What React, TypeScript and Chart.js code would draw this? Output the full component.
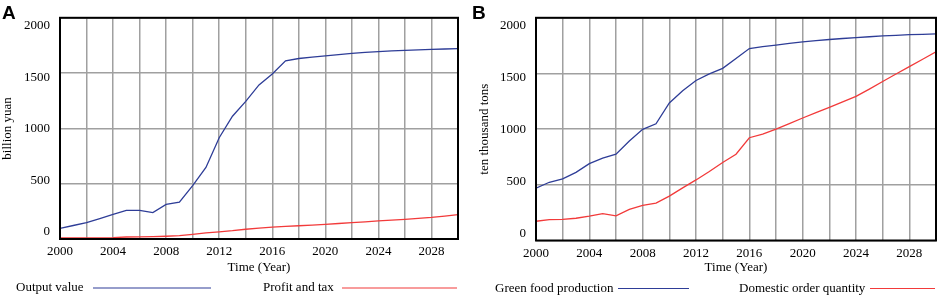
import React, { useEffect, useRef } from 'react';
import { Chart, registerables } from 'chart.js';

Chart.register(...registerables);

// ---------- data ----------
const years = [
  2000, 2001, 2002, 2003, 2004, 2005, 2006, 2007, 2008, 2009,
  2010, 2011, 2012, 2013, 2014, 2015, 2016, 2017, 2018, 2019,
  2020, 2021, 2022, 2023, 2024, 2025, 2026, 2027, 2028, 2029, 2030,
];

const outputValue = [
  96, 122, 149, 185, 222, 259, 259, 239, 313, 334,
  483, 647, 916, 1110, 1244, 1393, 1492, 1611, 1632, 1644,
  1655, 1667, 1678, 1687, 1695, 1701, 1706, 1710, 1714, 1718, 1722,
];

const profitAndTax = [
  10, 10, 10, 10, 12, 18, 20, 22, 25, 30,
  42, 55, 65, 75, 88, 98, 108, 115, 120, 126,
  133, 140, 148, 155, 163, 170, 178, 186, 195, 207, 220,
];

const greenFoodProduction = [
  470, 523, 553, 612, 690, 740, 776, 894, 998, 1048,
  1235, 1345, 1437, 1496, 1546, 1635, 1724, 1742, 1755, 1770,
  1784, 1795, 1805, 1814, 1822, 1830, 1837, 1843, 1849, 1852, 1855,
];

const domesticOrderQuantity = [
  173, 188, 190, 200, 218, 242, 221, 280, 316, 336,
  399, 473, 544, 620, 700, 775, 923, 955, 1000, 1050,
  1100, 1148, 1195, 1245, 1294, 1360, 1428, 1495, 1561, 1628, 1695,
];

const xTickLabels = [2000, 2004, 2008, 2012, 2016, 2020, 2024, 2028];
const yTickLabels = [0, 500, 1000, 1500, 2000];

// ---------- styles ----------
const SERIF = "'Liberation Serif', 'Times New Roman', serif";
const BLUE = '#2e3d97';
const RED = '#f23a3a';
const GRID = '#a0a0a0';

type LegendPos = { tx: number; x1: number; x2: number };

interface PanelSpec {
  letter: string;
  letterX: number;
  yTitle: string;
  yTitlePad: number;
  yWidth: number;
  padRight: number;
  padBottom: number;
  xHeight: number;
  labelMin: number;
  labelMax: number;
  series: { label: string; values: number[]; color: string }[];
  legend: LegendPos[];
  legendY: number;
}

function buildConfig(spec: PanelSpec): any {
  const framePlugin = {
    id: 'frameAndLegend',
    afterDraw(chart: any) {
      const ctx = chart.ctx as CanvasRenderingContext2D;
      const a = chart.chartArea;
      ctx.save();
      // frame
      ctx.strokeStyle = '#000';
      ctx.lineWidth = 2;
      ctx.strokeRect(a.left, a.top, a.right - a.left, a.bottom - a.top);
      // legend
      ctx.font = `13px ${SERIF}`;
      ctx.fillStyle = '#000';
      ctx.textBaseline = 'middle';
      ctx.textAlign = 'left';
      chart.data.datasets.forEach((ds: any, i: number) => {
        const p = spec.legend[i];
        ctx.fillText(ds.label, p.tx, spec.legendY);
        ctx.strokeStyle = ds.borderColor;
        ctx.lineWidth = 1.2;
        ctx.beginPath();
        ctx.moveTo(p.x1, spec.legendY);
        ctx.lineTo(p.x2, spec.legendY);
        ctx.stroke();
      });
      // panel letter
      ctx.font = `bold 19px 'Liberation Sans', Arial, sans-serif`;
      ctx.textBaseline = 'alphabetic';
      ctx.fillStyle = '#000';
      ctx.fillText(spec.letter, spec.letterX, 18.5);
      ctx.restore();
    },
  };

  return {
    type: 'line',
    data: {
      datasets: spec.series.map((s) => ({
        label: s.label,
        data: years.map((yr, i) => ({ x: yr, y: s.values[i] })),
        borderColor: s.color,
        backgroundColor: s.color,
        borderWidth: 1.3,
        pointRadius: 0,
        tension: 0,
        fill: false,
      })),
    },
    options: {
      responsive: false,
      animation: false,
      devicePixelRatio: 1,
      layout: {
        padding: { left: 0, top: 16, right: spec.padRight, bottom: spec.padBottom },
      },
      plugins: {
        legend: { display: false },
        tooltip: { enabled: false },
      },
      scales: {
        x: {
          type: 'linear',
          min: 2000,
          max: 2030,
          border: { display: false },
          grid: { color: GRID, lineWidth: 1.5, drawTicks: false },
          ticks: {
            stepSize: 2,
            padding: 5,
            maxRotation: 0,
            autoSkip: false,
            color: '#000',
            font: { family: SERIF, size: 13 },
            callback: (v: number) => (xTickLabels.includes(v) ? String(v) : ''),
          },
          title: {
            display: true,
            text: 'Time (Year)',
            color: '#000',
            font: { family: SERIF, size: 13 },
            padding: 0,
          },
          afterFit: (scale: any) => {
            scale.height = spec.xHeight;
          },
        },
        y: {
          type: 'linear',
          position: 'left',
          min: 0,
          max: 2000,
          border: { display: false },
          grid: { color: GRID, lineWidth: 1.5, drawTicks: false },
          ticks: { stepSize: 500, display: false },
          afterFit: (scale: any) => {
            scale.width = 0;
          },
        },
        yLabels: {
          type: 'linear',
          position: 'left',
          min: spec.labelMin,
          max: spec.labelMax,
          border: { display: false },
          grid: { display: false, drawTicks: false },
          afterBuildTicks: (scale: any) => {
            scale.ticks = yTickLabels.map((v) => ({ value: v }));
          },
          ticks: {
            padding: 10,
            autoSkip: false,
            color: '#000',
            font: { family: SERIF, size: 13 },
            callback: (v: number) => String(v),
          },
          title: {
            display: true,
            text: spec.yTitle,
            color: '#000',
            font: { family: SERIF, size: 13 },
            padding: { top: spec.yTitlePad, bottom: 0 },
          },
          afterFit: (scale: any) => {
            scale.width = spec.yWidth;
          },
        },
      },
    },
    plugins: [framePlugin],
  };
}

const specA: PanelSpec = {
  letter: 'A',
  letterX: 2,
  yTitle: 'billion yuan',
  yTitlePad: 0,
  yWidth: 60,
  padRight: 12,
  padBottom: 23,
  xHeight: 36,
  labelMin: -70.3,
  labelMax: 2080,
  series: [
    { label: 'Output value', values: outputValue, color: BLUE },
    { label: 'Profit and tax', values: profitAndTax, color: RED },
  ],
  legend: [
    { tx: 16, x1: 93, x2: 211 },
    { tx: 263, x1: 342, x2: 457 },
  ],
  legendY: 288,
};

const specB: PanelSpec = {
  letter: 'B',
  letterX: 2,
  yTitle: 'ten thousand tons',
  yTitlePad: 7,
  yWidth: 66,
  padRight: 4,
  padBottom: 22.5,
  xHeight: 35,
  labelMin: -68.8,
  labelMax: 2076.5,
  series: [
    { label: 'Green food production', values: greenFoodProduction, color: BLUE },
    { label: 'Domestic order quantity', values: domesticOrderQuantity, color: RED },
  ],
  legend: [
    { tx: 25, x1: 148, x2: 219 },
    { tx: 269, x1: 400, x2: 465 },
  ],
  legendY: 288.5,
};

function Panel({ spec, left, width }: { spec: PanelSpec; left: number; width: number }) {
  const ref = useRef<HTMLCanvasElement>(null);
  useEffect(() => {
    const chart = new Chart(ref.current as HTMLCanvasElement, buildConfig(spec));
    return () => chart.destroy();
  }, [spec]);
  return (
    <canvas
      ref={ref}
      width={width}
      height={298}
      style={{ position: 'absolute', left, top: 0, width, height: 298 }}
    />
  );
}

export default function App() {
  return (
    <div
      style={{
        position: 'absolute',
        left: 0,
        top: 0,
        width: 941,
        height: 298,
        background: '#fff',
        overflow: 'hidden',
      }}
    >
      <Panel spec={specA} left={0} width={470} />
      <Panel spec={specB} left={470} width={471} />
    </div>
  );
}
